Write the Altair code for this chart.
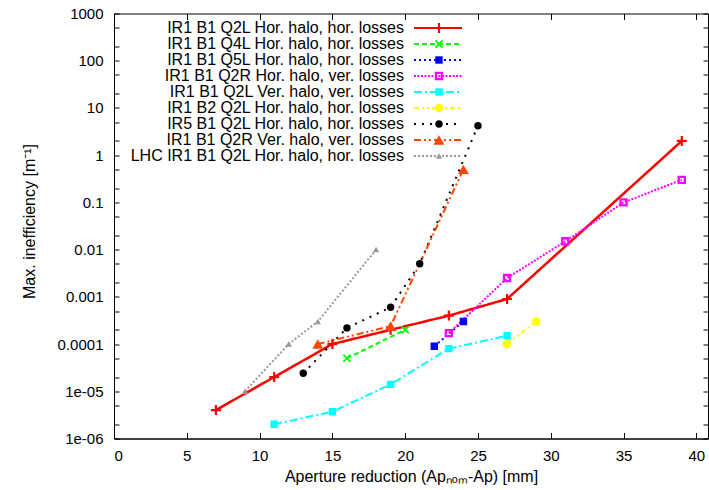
import altair as alt
import pandas as pd

# ---------------- data ----------------
series_names = [
    "IR1 B1 Q2L Hor. halo, hor. losses",
    "IR1 B1 Q4L Hor. halo, hor. losses",
    "IR1 B1 Q5L Hor. halo, hor. losses",
    "IR1 B1 Q2R Hor. halo, ver. losses",
    "IR1 B1 Q2L Ver. halo, ver. losses",
    "IR1 B2 Q2L Hor. halo, hor. losses",
    "IR5 B1 Q2L Hor. halo, hor. losses",
    "IR1 B1 Q2R Ver. halo, ver. losses",
    "LHC IR1 B1 Q2L Hor. halo, hor. losses",
]
q2l_hh_x = [7, 11, 15, 19, 23, 27, 39]
q2l_hh_y = [4e-6, 2e-5, 1e-4, 2e-4, 4e-4, 9e-4, 2.0]
q4l_x = [16, 20]
q4l_y = [5e-5, 2e-4]
q5l_x = [22, 24]
q5l_y = [9e-5, 3e-4]
q2r_hv_x = [23, 27, 31, 35, 39]
q2r_hv_y = [1.7e-4, 2.5e-3, 0.015, 0.1, 0.3]
q2l_vv_x = [11, 15, 19, 23, 27]
q2l_vv_y = [2e-6, 3.7e-6, 1.4e-5, 8e-5, 1.5e-4]
b2_x = [27, 29]
b2_y = [1e-4, 3e-4]
ir5_x = [13, 16, 19, 21, 25]
ir5_y = [2.4e-5, 2.2e-4, 6e-4, 5e-3, 4.2]
q2r_vv_x = [14, 19, 24]
q2r_vv_y = [1e-4, 2.4e-4, 0.5]
lhc_x = [9, 12, 14, 18]
lhc_y = [1e-5, 1e-4, 3e-4, 0.01]

x_ticks = [0, 5, 10, 15, 20, 25, 30, 35, 40]
y_major = [1e-6, 1e-5, 1e-4, 1e-3, 1e-2, 1e-1, 1, 10, 100, 1000]
y_labels = ["1e-06", "1e-05", "0.0001", "0.001", "0.01", "0.1", "1", "10", "100", "1000"]

all_x = [q2l_hh_x, q4l_x, q5l_x, q2r_hv_x, q2l_vv_x, b2_x, ir5_x, q2r_vv_x, lhc_x]
all_y = [q2l_hh_y, q4l_y, q5l_y, q2r_hv_y, q2l_vv_y, b2_y, ir5_y, q2r_vv_y, lhc_y]
rows = []
for name, xs, ys in zip(series_names, all_x, all_y):
    for xv, yv in zip(xs, ys):
        rows.append({"series": name, "x": xv, "y": yv})
df = pd.DataFrame(rows)

# ---------------- styles ----------------
colors = ["#ff0000", "#00ff00", "#0000ff", "#ff00ff", "#00ffff",
          "#ffff00", "#000000", "#ff4500", "#999999"]
dashes = [[1, 0], [5, 3], [2, 3], [2, 1.5], [8, 3, 2, 3], [5, 3, 2, 3, 2, 3],
          [2, 6], [7, 3, 2, 3, 2, 3], [2, 2]]
widths = [2.5, 2, 2, 2, 2, 2, 2, 2, 2]
plus_path = "M-1,-0.22H-0.22V-1H0.22V-0.22H1V0.22H0.22V1H-0.22V0.22H-1Z"
x_path = ("M-1,-0.7L-0.7,-1L0,-0.3L0.7,-1L1,-0.7L0.3,0L1,0.7L0.7,1L0,0.3"
          "L-0.7,1L-1,0.7L-0.3,0Z")
ring_path = "M-1,-1H1V1H-1Z M-0.45,-0.45V0.45H0.45V-0.45Z"
shapes = [plus_path, x_path, "square", ring_path, "square", "circle",
          "circle", "triangle-up", "triangle-up"]
sizes = [100, 70, 55, 70, 55, 70, 55, 120, 40]

FONT = "Liberation Sans"
FS = 15
LFS = 16
W, H = 594, 425

ylabel_expr = ("abs(log(datum.value)/LN10 - round(log(datum.value)/LN10)) < 0.01 ? "
               + str(y_labels) + "[round(log(datum.value)/LN10) + 6] : ''")
y_ticks = []
for v in y_major:
    y_ticks.append(v)
    if v < 1000:
        y_ticks += [v * 2, v * 5]

x_enc = alt.X("x:Q",
              scale=alt.Scale(domain=[0, 40.8], nice=False, zero=False),
              axis=alt.Axis(values=x_ticks, title="Aperture reduction (Apₙₒₘ-Ap) [mm]",
                            ticks=False, grid=True, gridColor="#000000", gridOpacity=1,
                            gridDash=[6, H - 12, 6], gridWidth=1,
                            domainColor="#000000", labelPadding=10, titlePadding=5,
                            labelFont=FONT, labelFontSize=FS, labelColor="#000000",
                            titleFont=FONT, titleFontSize=16, titleFontWeight="normal",
                            titleColor="#000000"))
y_enc = alt.Y("y:Q",
              scale=alt.Scale(type="log", domain=[1e-6, 1000], nice=False),
              axis=alt.Axis(values=y_ticks, labelExpr=ylabel_expr, title="Max. inefficiency [m⁻¹]",
                            ticks=False, grid=True, gridColor="#000000", gridOpacity=1,
                            gridDash=[5, W - 10, 5], gridWidth=1, labelOverlap=False,
                            domainColor="#000000", labelPadding=11,
                            labelFont=FONT, labelFontSize=FS, labelColor="#000000",
                            titleFont=FONT, titleFontSize=16, titleFontWeight="normal",
                            titleColor="#000000", titleX=-85, titleY=H / 2 - 5,
                            titleAngle=270, titleAlign="center", titleBaseline="middle"))

line_legend = alt.Legend(title=None, orient="none", legendX=316, legendY=6.5,
                         symbolType="M-4,0H4", symbolSize=144, symbolStrokeWidth=2,
                         labelAlign="right", labelOffset={"expr": "-42"},
                         rowPadding={"expr": "-1.6"}, labelLimit=400,
                         labelFont=FONT, labelFontSize=LFS, labelColor="#000000",
                         padding=0)
point_legend = alt.Legend(title=None, orient="none", legendX=317, legendY=6.5,
                          labelExpr="''", rowPadding={"expr": "-1.6"}, labelFontSize=LFS,
                          symbolStrokeWidth=0, padding=0)

lines = alt.Chart(df).mark_line(clip=True).encode(
    x=x_enc, y=y_enc,
    color=alt.Color("series:N", scale=alt.Scale(domain=series_names, range=colors),
                    legend=line_legend),
    strokeDash=alt.StrokeDash("series:N", scale=alt.Scale(domain=series_names, range=dashes),
                              legend=line_legend),
    strokeWidth=alt.StrokeWidth("series:N",
                                scale=alt.Scale(type="ordinal", domain=series_names, range=widths),
                                legend=None),
    order="x:Q",
)
points = alt.Chart(df).mark_point(filled=True, opacity=1, clip=True).encode(
    x=x_enc, y=y_enc,
    color=alt.Color("series:N", scale=alt.Scale(domain=series_names, range=colors),
                    legend=point_legend),
    shape=alt.Shape("series:N", scale=alt.Scale(domain=series_names, range=shapes),
                    legend=point_legend),
    size=alt.Size("series:N", scale=alt.Scale(type="ordinal", domain=series_names, range=sizes),
                  legend=point_legend),
)

chart = alt.layer(lines, points).resolve_legend(
    color="independent", shape="independent", strokeDash="independent", size="independent"
).properties(
    width=W, height=H,
    autosize=alt.AutoSizeParams(type="none"),
    padding={"left": 114, "top": 13.5, "right": 1, "bottom": 51.5},
    background="#ffffff",
).configure_view(stroke="#000000", strokeWidth=1)

chart.save("out.html", embed_options={"renderer": "svg", "actions": False})
